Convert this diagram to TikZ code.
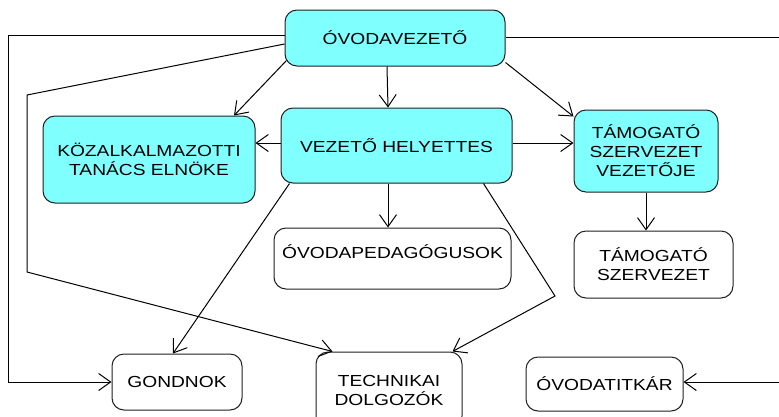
\documentclass[tikz,border=0pt]{standalone}
\usepackage{fontspec}
\usetikzlibrary{arrows.meta,calc}
\newfontfamily\boxfont[FakeStretch=1.2]{Liberation Sans}
\definecolor{boxcyan}{HTML}{80FFFF}
\definecolor{edge}{HTML}{202020}
\tikzset{
  base/.style={draw=edge, line width=1pt, rounded corners=12pt, align=center,
    font=\boxfont\fontsize{16}{19}\selectfont, inner sep=0pt},
  cbox/.style={base, fill=boxcyan},
  wbox/.style={base, fill=white},
  conn/.style={draw=black, line width=1pt},
  arr/.style={conn, -{Straight Barb[length=12pt,width=17pt,line width=1pt]}}
}
\begin{document}
\begin{tikzpicture}[x=1pt,y=-1pt]
\clip (0,0) rectangle (779,416);
\fill[white] (0,0) rectangle (779,416);
% boxes
\node[cbox, minimum width=220pt, minimum height=56pt] (ov) at (395,38) {ÓVODAVEZETŐ};
\node[cbox, minimum width=212pt, minimum height=87pt] (koz) at (149,159.5) {KÖZALKALMAZOTTI\\TANÁCS ELNÖKE};
\node[cbox, minimum width=231pt, minimum height=75pt] (vez) at (396.5,145.5) {VEZETŐ HELYETTES};
\node[cbox, minimum width=144pt, minimum height=82pt] (tsv) at (646,151) {TÁMOGATÓ\\SZERVEZET\\VEZETŐJE};
\node[wbox, minimum width=159pt, minimum height=67pt] (ts) at (653.5,264.5) {TÁMOGATÓ\\SZERVEZET};
\node[wbox, minimum width=237pt, minimum height=61pt] (ovp) at (392.5,258.5) {\raisebox{6.5pt}[\height][\depth]{ÓVODAPEDAGÓGUSOK}};
\node[wbox, minimum width=130pt, minimum height=56pt] (gond) at (177,382) {GONDNOK};
\node[wbox, minimum width=146pt, minimum height=76pt] (tech) at (389,390) {TECHNIKAI\\DOLGOZÓK};
\node[wbox, minimum width=157pt, minimum height=54pt] (titk) at (604.5,384) {ÓVODATITKÁR};
% connectors
\coordinate (l1a) at (8.5,35);
\draw[arr] ([yshift=3pt]ov.west) -- (l1a) |- (gond.west);
\coordinate (l2a) at (27,95);
\coordinate (l2b) at (27,272);
\draw[arr] ([yshift=-6pt]ov.west) -- (l2a) -- (l2b) -- ([xshift=17pt]tech.north west);
\draw[arr] ([shift={(2pt,6pt)}]ov.south west) -- ([xshift=85pt]koz.north);
\draw[arr] ([xshift=-8pt]ov.south) -- ([xshift=-8.5pt]vez.north);
\draw[arr] ([yshift=4pt]ov.south east) -- ([yshift=-7pt]tsv.north west);
\draw[arr] ([yshift=2.5pt]vez.west) coordinate (v6) -- (v6 -| koz.east);
\draw[arr] ([yshift=2.5pt]vez.east) coordinate (v7) -- (v7 -| tsv.west);
\draw[arr] (tsv.south) -- (tsv.south |- ts.north);
\draw[arr] ([xshift=-8.5pt]vez.south) coordinate (v9) -- (v9 |- ovp.north);
\draw[arr] ([xshift=9pt]vez.south west) -- ([xshift=-4pt]gond.north);
\coordinate (k) at (555,296);
\draw[arr] ([xshift=-29pt]vez.south east) -- (k) -- ([xshift=-10pt]tech.north east);
\coordinate (r1) at (790,37);
\draw[arr] (ov.east |- r1) -- (r1) |- ([yshift=2pt]titk.east);
\end{tikzpicture}
\end{document}
